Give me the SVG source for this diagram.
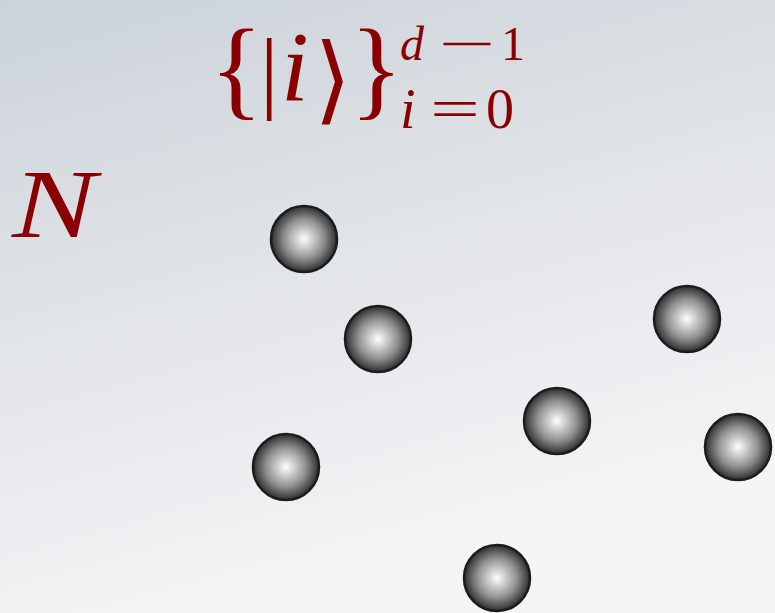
<svg xmlns="http://www.w3.org/2000/svg" width="775" height="613" viewBox="0 0 775 613">
<defs>
<linearGradient id="bg" x1="0" y1="0" x2="0.35" y2="1">
<stop offset="0" stop-color="#cbd2d9"/>
<stop offset="0.5" stop-color="#e1e4e8"/>
<stop offset="1" stop-color="#f4f5f6"/>
</linearGradient>
<radialGradient id="ball" cx="0.5" cy="0.5" r="0.5">
<stop offset="0" stop-color="#ffffff"/>
<stop offset="0.15" stop-color="#e2e2e2"/>
<stop offset="0.6" stop-color="#909090"/>
<stop offset="1" stop-color="#2e2e2e"/>
</radialGradient>
</defs>
<style>
.m{fill:#8a0000;font-family:"Liberation Serif","Times New Roman",serif}
.it{font-style:italic}
.b{fill:url(#ball);stroke:#1c1c1c;stroke-width:2.5}
</style>
<rect width="775" height="613" fill="url(#bg)"/>
<g id="formula">
<text class="m"><tspan x="210" y="105" font-size="110">{</tspan><tspan x="260" y="102" font-size="92">|</tspan><tspan class="it" x="281" y="100" font-size="100">i</tspan><tspan x="314" y="112" font-size="96" font-family="DejaVu Serif,serif">⟩</tspan><tspan x="350" y="105" font-size="110">}</tspan></text>
<text class="m" y="60" font-size="48"><tspan class="it" x="400">d</tspan><tspan x="438" textLength="57" lengthAdjust="spacingAndGlyphs">−</tspan><tspan x="501">1</tspan></text>
<text class="m" y="128" font-size="56"><tspan class="it" x="400">i</tspan><tspan x="430" textLength="50" lengthAdjust="spacingAndGlyphs">=</tspan><tspan x="486">0</tspan></text>
</g>
<g id="label-N"><text class="m it" x="12" y="237" font-size="98" textLength="84" lengthAdjust="spacingAndGlyphs">N</text></g>
<g id="ball1"><circle class="b" cx="304" cy="239" r="33"/></g>
<g id="ball2"><circle class="b" cx="378" cy="339" r="33"/></g>
<g id="ball3"><circle class="b" cx="687" cy="319" r="33"/></g>
<g id="ball4"><circle class="b" cx="557" cy="421" r="33"/></g>
<g id="ball5"><circle class="b" cx="738" cy="447" r="33"/></g>
<g id="ball6"><circle class="b" cx="286" cy="467" r="33"/></g>
<g id="ball7"><circle class="b" cx="497" cy="578" r="33"/></g>
<g id="connectors"></g>
</svg>
